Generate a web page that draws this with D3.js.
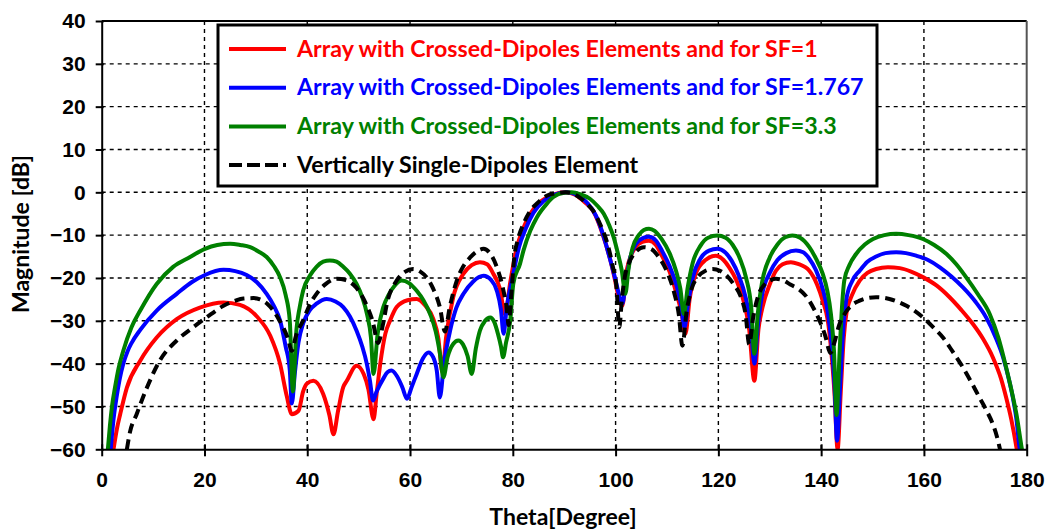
<!DOCTYPE html>
<html>
<head>
<meta charset="utf-8">
<script src="https://d3js.org/d3.v7.min.js"></script>
<style>
  body { margin: 0; background: #fff; }
  svg { font-family: Lato, "DejaVu Sans", sans-serif; font-weight: bold; }
  .grid line { stroke: #000; stroke-width: 1.4; stroke-dasharray: 4,4; }
  .axis text { font-size: 21px; font-weight: bold; fill: #000; }
  .axis line, .axis path { stroke: #000; stroke-width: 2; }
</style>
</head>
<body>
<svg width="1048" height="531"></svg>
<script>
// x ticks, y ticks
const thetaTicks = [0, 20, 40, 60, 80, 100, 120, 140, 160, 180];
const magTicks = [-60, -50, -40, -30, -20, -10, 0, 10, 20, 30, 40];

const seriesNames = [
  'Array with Crossed-Dipoles Elements and for SF=1',
  'Array with Crossed-Dipoles Elements and for SF=1.767',
  'Array with Crossed-Dipoles Elements and for SF=3.3',
  'Vertically Single-Dipoles Element'
];

// [theta (deg), magnitude (dB)]
const sf1 = [[2.3,-60],[3.0,-55],[3.6,-51.8],[4.9,-45.6],[7.5,-39.3],[10.7,-33.9],[14.6,-29.6],[19.1,-26.9],[23.7,-25.7],[26.9,-26.3],[30.2,-29.0],[32.8,-33.5],[34.7,-40.0],[36.0,-47.5],[37.0,-51.8],[38.3,-51.0],[39.2,-46.5],[39.9,-44.7],[41.2,-44.0],[43.1,-47.1],[44.3,-52],[45.1,-56.5],[46.0,-51],[47.0,-45.5],[47.7,-44],[49.6,-40.5],[51.0,-42.5],[51.9,-46],[52.9,-53],[53.5,-47],[54.2,-40.1],[55.2,-33],[56.1,-30],[57.4,-26.8],[59.5,-25.2],[61.3,-24.9],[63.0,-26.5],[64.5,-29.5],[65.5,-34],[66.3,-42],[67.0,-34],[68.4,-24.5],[70.4,-19],[72.0,-17],[73.6,-16.3],[75.0,-16.8],[76.2,-19],[77.5,-22.5],[78.5,-28.5],[79.5,-21],[80.8,-12.8],[82.0,-8.5],[83.4,-5],[85.0,-2.6],[86.6,-1.2],[88.5,-0.3],[90.2,0],[92.0,-0.5],[94.0,-2.3],[95.7,-4.5],[97.4,-9.5],[98.8,-15],[99.8,-20],[100.6,-24.5],[101.3,-26.5],[102.2,-18],[103.9,-12.8],[105.2,-11.6],[106.5,-11.3],[107.8,-12.2],[109.1,-15],[110.5,-18.5],[111.7,-23],[112.8,-28],[113.6,-33],[114.4,-25],[115.6,-19],[117.5,-15.8],[119.5,-14.8],[121.0,-15.8],[122.1,-17.5],[123.5,-20.5],[124.7,-24.5],[126.0,-32],[127.0,-44],[127.8,-32],[128.6,-26.8],[130.0,-21.5],[131.2,-18.3],[132.5,-16.8],[134.1,-16.3],[135.5,-16.7],[137.7,-18.3],[139.2,-21.5],[140.3,-25.3],[141.3,-30],[141.9,-36.2],[142.6,-47],[143.2,-60],[143.8,-47],[144.4,-34],[144.9,-28.4],[146.0,-24],[147.5,-20.6],[149.0,-18.8],[150.7,-17.9],[153.0,-17.5],[155.3,-17.7],[157.5,-18.5],[159.8,-19.8],[162.5,-21.8],[165.0,-24.5],[167.3,-27.5],[169.5,-30.7],[171.5,-34.2],[173.4,-38.5],[175.0,-43.5],[176.0,-47.9],[177.0,-53],[178.0,-59.5],[178.2,-61]];

const sf1767 = [[1.75,-60],[2.3,-53],[2.9,-47.8],[3.5,-43.6],[4.2,-40],[5.0,-37.2],[5.8,-35.2],[7.5,-32.1],[10.7,-27.6],[14.6,-23.7],[17.5,-21],[20.1,-19.3],[23.7,-18.1],[26.0,-18.4],[28.2,-19.3],[30.2,-21],[32.1,-23.7],[33.5,-26.5],[34.7,-29.9],[35.8,-36],[36.6,-41.5],[37.0,-49.3],[37.6,-42],[38.3,-35],[39.2,-30.6],[40.5,-27.5],[41.8,-26],[43.8,-24.9],[45.5,-25.5],[47.0,-26.8],[48.3,-29],[49.6,-32.3],[50.7,-36],[51.6,-40.1],[52.2,-44],[52.8,-48.6],[53.5,-46.5],[54.8,-43.5],[55.6,-42],[56.4,-41.6],[57.5,-43],[58.5,-45.5],[59.4,-48.2],[60.3,-45.5],[61.3,-42.4],[62.5,-38.8],[63.6,-37.4],[64.5,-38.5],[65.2,-41.6],[65.8,-47.9],[66.6,-40],[67.8,-32.3],[69.0,-27],[70.4,-23.7],[72.3,-20.8],[74.3,-19.5],[75.8,-20.5],[76.9,-23],[77.7,-27.5],[78.2,-33],[78.8,-27],[80.1,-19],[81.2,-12.8],[82.5,-8.5],[84.0,-4.8],[86.0,-2],[88.0,-0.6],[90.5,0],[92.5,-0.6],[94.5,-2.5],[96.2,-5.5],[97.6,-10],[98.9,-15.5],[100.0,-20.5],[100.8,-24.5],[101.3,-26],[101.9,-22],[102.8,-15.5],[104.0,-12],[105.3,-10.7],[106.5,-10.4],[107.8,-11.2],[109.1,-13.8],[110.5,-17.2],[111.8,-21.5],[112.7,-26],[113.4,-31.5],[114.1,-26],[115.0,-20],[116.5,-15.5],[118.2,-13.6],[119.8,-13.2],[121.3,-14],[122.6,-16],[124.0,-19.5],[125.3,-24.5],[126.3,-31],[127.0,-40],[127.7,-31],[128.5,-24],[130.0,-18.8],[131.5,-15.8],[133.2,-14.2],[135.1,-13.6],[136.5,-14],[137.7,-15.5],[139.0,-18.2],[140.3,-22.5],[141.3,-28],[142.0,-35],[142.6,-45],[143.1,-58],[143.7,-45],[144.3,-32],[144.9,-25],[146.0,-20.8],[147.5,-18.3],[149.0,-16.2],[150.7,-15.0],[152.5,-14.2],[154.6,-14],[156.5,-14.2],[158.5,-14.8],[160.8,-15.8],[163.1,-17.5],[165.3,-19.6],[167.6,-22.2],[170.0,-25.5],[172.1,-29.2],[174.0,-34],[175.4,-38.5],[176.5,-43.5],[177.3,-47.9],[178.0,-53],[178.6,-59.5],[178.8,-61]];

const sf33 = [[1.2,-60],[1.6,-54.5],[2.0,-50],[2.6,-45.5],[3.3,-41],[4.2,-37],[5.8,-31.5],[7.5,-27.6],[10.7,-21.4],[13.9,-17.4],[17.2,-15.1],[20.1,-13.2],[22.5,-12.3],[25.0,-12.0],[27.0,-12.3],[28.9,-12.8],[30.5,-13.8],[32.1,-15.1],[33.5,-17.2],[34.7,-19.8],[35.8,-24],[36.6,-30],[37.2,-46.5],[37.9,-32],[38.5,-27],[39.2,-22.9],[40.5,-19.5],[41.8,-17.4],[43.1,-16.2],[44.4,-15.9],[45.7,-16.2],[47.0,-17.4],[48.3,-19],[49.6,-21.4],[50.7,-24.5],[51.6,-28.3],[52.4,-34],[52.9,-42.4],[53.7,-33],[54.8,-26.8],[55.8,-24],[57.0,-21.8],[58.4,-20.6],[59.8,-21.2],[61.3,-23],[62.6,-25.2],[63.9,-28.4],[65.0,-32.5],[65.8,-37.5],[66.5,-43.2],[67.3,-38.5],[68.4,-35.4],[69.4,-34.6],[70.3,-35.5],[71.2,-38.2],[72.0,-42.4],[72.8,-36.5],[73.6,-32.3],[74.6,-30.0],[75.6,-29.2],[76.4,-30.3],[77.1,-33],[77.7,-36],[78.1,-38.5],[78.7,-35],[79.5,-30],[80.1,-21.3],[81.4,-16.7],[82.1,-13.5],[83.4,-9],[84.7,-5.8],[86.6,-2.7],[87.9,-1.1],[90.0,-0.1],[91.5,0],[93.2,-0.5],[95.0,-1.5],[96.5,-3.2],[97.7,-5],[98.8,-7.8],[99.6,-10.4],[100.5,-14.5],[101.2,-18.2],[101.9,-23.7],[102.5,-18],[103.3,-13],[104.5,-10],[105.5,-8.8],[106.5,-8.5],[107.6,-9],[109.0,-11],[110.5,-14.2],[111.8,-18.5],[112.6,-22.5],[113.3,-28.4],[114.0,-22.5],[115.0,-16.5],[116.5,-12.5],[118.0,-10.6],[119.8,-10.1],[121.4,-10.6],[122.8,-12.3],[124.2,-15.5],[125.4,-20],[126.4,-27],[127.0,-37.7],[127.7,-28],[128.5,-21],[130.0,-15.2],[131.5,-12.2],[133.0,-10.5],[134.4,-10.1],[135.9,-10.6],[137.7,-12.8],[139.0,-15.5],[140.3,-19],[141.2,-23],[141.9,-28.4],[142.5,-37],[143.0,-52],[143.6,-37],[144.1,-26],[144.5,-20.6],[145.5,-17],[146.8,-14.4],[148.5,-12.2],[150.1,-10.9],[152.3,-10],[154.6,-9.7],[157.0,-10],[159.8,-10.9],[162.0,-12.3],[164.4,-14.4],[166.3,-16.8],[168.2,-19.8],[170.5,-23.8],[172.8,-28.4],[174.5,-34],[176.0,-40.9],[177.0,-46],[178.0,-51.8],[179.0,-59.5],[179.2,-61]];

const single = [[4.9,-60],[5.5,-56],[6.8,-51.8],[8.8,-45.6],[11.3,-39.3],[14.6,-34.6],[17.8,-31.5],[20.4,-29.2],[23.7,-26.5],[26.0,-25.3],[27.6,-24.8],[29.5,-24.7],[30.8,-25],[32.2,-26],[33.4,-27.6],[34.4,-29.5],[35.3,-31.5],[36.2,-34],[37.0,-37.0],[37.8,-33.5],[39.2,-29.9],[40.5,-26.2],[41.8,-23.7],[43.5,-21.5],[45.7,-20.2],[47.5,-20.5],[49.0,-21.6],[50.3,-23.5],[51.6,-26.5],[52.7,-30],[53.8,-35.2],[54.7,-31],[55.6,-25.5],[57.4,-20.6],[59.0,-18.6],[60.6,-17.9],[62.0,-18.5],[63.2,-19.8],[64.5,-22.5],[65.8,-26.8],[66.8,-32.5],[67.7,-27],[69.1,-20.6],[70.4,-17.2],[71.7,-15.2],[73.0,-13.8],[74.3,-13.2],[75.6,-14.3],[76.9,-17.5],[78.0,-22],[78.8,-27],[79.2,-31],[79.7,-24],[80.3,-15],[81.0,-11],[82.1,-7.3],[83.4,-4.3],[84.7,-2.6],[86.6,-0.8],[88.5,-0.2],[90.3,0],[91.8,-0.4],[93.1,-1.3],[94.5,-2.8],[95.7,-4.4],[97.2,-8],[98.3,-11.5],[99.4,-17],[100.2,-22.5],[100.7,-31.5],[101.3,-24],[102.0,-18.5],[102.6,-16.5],[104.0,-13.8],[105.5,-12.8],[107.0,-13.3],[108.5,-15.3],[110.0,-18.5],[111.3,-23],[112.3,-28.5],[113.0,-35.8],[113.8,-28],[114.8,-22.5],[116.0,-19.8],[117.5,-18.3],[118.9,-17.9],[120.3,-18.3],[121.8,-19.7],[123.0,-21.5],[124.4,-24.5],[125.3,-28.5],[126.0,-35.5],[126.8,-29],[127.8,-24],[129.0,-21.5],[130.2,-20.5],[131.2,-20.2],[132.5,-20.5],[134.0,-21.5],[135.5,-22.5],[137.1,-24.3],[138.5,-27],[139.7,-30],[140.8,-33.5],[141.8,-37.5],[142.6,-35],[143.5,-31],[144.5,-28.5],[146.0,-26.3],[147.5,-25.3],[149.0,-24.7],[150.7,-24.5],[152.0,-24.6],[153.3,-24.9],[155.0,-25.6],[156.6,-26.5],[158.2,-27.7],[159.8,-29.2],[161.8,-31.5],[163.7,-33.9],[165.6,-37.2],[167.6,-40.9],[169.3,-44.5],[170.8,-47.9],[172.2,-51],[173.4,-54.1],[174.2,-57],[174.9,-60.5]];

const seriesData = [sf1, sf1767, sf33, single];
const seriesColors = ['#ff0000', '#0000ff', '#008000', '#000000'];
const seriesDash = [null, null, null, '10,6'];

const svg = d3.select('svg');
const plotL = 101.7, plotR = 1026.7, plotT = 21, plotB = 449.3;

const x = d3.scaleLinear().domain([0, 180]).range([plotL, plotR]);
const y = d3.scaleLinear().domain([-60, 40]).range([plotB, plotT]);

// grid
const grid = svg.append('g').attr('class', 'grid');
grid.selectAll('.h').data(magTicks.filter(d => d > -60 && d < 40)).enter().append('line')
  .attr('x1', plotL).attr('x2', plotR)
  .attr('y1', d => y(d)).attr('y2', d => y(d));
grid.selectAll('.v').data(thetaTicks.filter(d => d > 0 && d < 180)).enter().append('line')
  .attr('y1', plotT).attr('y2', plotB)
  .attr('x1', d => x(d)).attr('x2', d => x(d));

// frame (top / right)
svg.append('line').attr('x1', plotL).attr('x2', plotR).attr('y1', plotT).attr('y2', plotT)
  .attr('stroke', '#000').attr('stroke-width', 2);
svg.append('line').attr('x1', plotR).attr('x2', plotR).attr('y1', plotT).attr('y2', plotB)
  .attr('stroke', '#555').attr('stroke-width', 2);

// curves
svg.append('clipPath').attr('id', 'clip').append('rect')
  .attr('x', plotL).attr('y', plotT).attr('width', plotR - plotL).attr('height', plotB - plotT);

const line = d3.line().x(d => x(d[0])).y(d => y(d[1])).curve(d3.curveMonotoneX);

svg.append('g').attr('clip-path', 'url(#clip)')
  .selectAll('path').data(seriesData).enter().append('path')
  .attr('d', line)
  .attr('fill', 'none')
  .attr('stroke', (d, i) => seriesColors[i])
  .attr('stroke-width', 4)
  .attr('stroke-linejoin', 'round')
  .attr('stroke-dasharray', (d, i) => seriesDash[i]);

// axes
svg.append('g').attr('class', 'axis')
  .attr('transform', 'translate(0,' + plotB + ')')
  .call(d3.axisBottom(x).tickValues(thetaTicks).tickSize(7).tickSizeOuter(0).tickPadding(16))
  .call(g => g.selectAll('.tick line').attr('y1', -5));

svg.append('g').attr('class', 'axis')
  .attr('transform', 'translate(' + plotL + ',0)')
  .call(d3.axisLeft(y).tickValues(magTicks).tickSize(6).tickSizeOuter(0).tickPadding(10))
  .call(g => g.selectAll('.tick line').attr('x1', 2));

// axis titles
svg.append('text')
  .attr('x', 563).attr('y', 525)
  .attr('text-anchor', 'middle')
  .attr('font-size', 23)
  .text('Theta[Degree]');

svg.append('text')
  .attr('transform', 'translate(29,234) rotate(-90)')
  .attr('text-anchor', 'middle')
  .attr('font-size', 23)
  .text('Magnitude [dB]');

// legend
const legend = svg.append('g').attr('transform', 'translate(218,25)');
legend.append('rect')
  .attr('width', 659).attr('height', 161)
  .attr('fill', '#fff').attr('stroke', '#000').attr('stroke-width', 3);

const rows = legend.selectAll('.row').data(seriesNames).enter().append('g')
  .attr('transform', (d, i) => 'translate(0,' + (24 + i * 38.7) + ')');
rows.append('line')
  .attr('x1', 11).attr('x2', 68)
  .attr('stroke', (d, i) => seriesColors[i])
  .attr('stroke-width', 4)
  .attr('stroke-dasharray', (d, i) => i === 3 ? '13,5' : null);
rows.append('text')
  .attr('x', 79).attr('y', 7.5)
  .attr('font-size', 23.2)
  .attr('fill', (d, i) => seriesColors[i])
  .text(d => d);
</script>
</body>
</html>
